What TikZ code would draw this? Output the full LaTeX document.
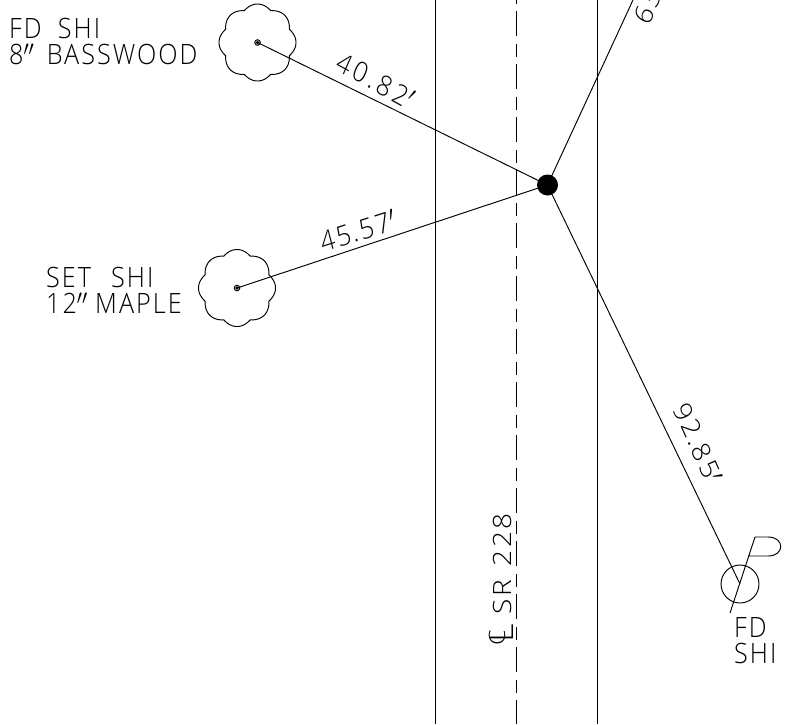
\documentclass[tikz,border=0pt]{standalone}
\usepackage{fontspec}
\setmainfont{Open Sans Light}[LetterSpace=8]
\newcommand{\wsp}{\hspace{0.3em}}
\tikzset{
  lbl/.style={inner sep=0pt,font=\fontsize{28}{28}\selectfont,text=black,transform shape,xscale=0.9},
  ln/.style={line width=0.95pt,black},
  treeo/.style={line width=0.95pt,black},
}
\begin{document}
\begin{tikzpicture}[x=1pt,y=-1pt]
\useasboundingbox (0,0) rectangle (799,724);
\coordinate (P) at (547.5,185);
\coordinate (T1) at (257.5,42.5);
\coordinate (T2) at (237,288);
\coordinate (F) at (740,584);
\coordinate (N) at (633,0);
\draw[ln] (435.5,0) -- (435.5,724);
\draw[ln] (597.5,0) -- (597.5,724);
\draw[ln,dash pattern=on 25pt off 7.5pt on 13pt off 7.5pt,dash phase=42pt] (516.5,0) -- (516.5,724);
\draw[ln] (P) -- (T1);
\draw[ln] (P) -- (T2);
\draw[ln] (P) -- (F);
\draw[ln] (P) -- (N);
\fill (P) circle (10.5);
\draw[ln] (T1) circle (2.8); \fill (T1) circle (1.8);
\draw[ln] (T2) circle (2.8); \fill (T2) circle (1.8);
\draw[treeo,shift={(T1)}] plot[samples=193,domain=0:360] ({(34.5+4*abs(cos(4*\x)))*cos(\x)},{(34.5+4*abs(cos(4*\x)))*sin(\x)}) -- cycle;
\draw[treeo,shift={(T2)}] plot[samples=193,domain=0:360] ({(34.5+4*abs(cos(4*\x)))*cos(\x)},{(34.5+4*abs(cos(4*\x)))*sin(\x)}) -- cycle;
\draw[ln] (F) circle (19);
\draw[ln] (730,613) -- (755,537) -- (768,537) .. controls (785,537) and (785,556) .. (768,556) -- (748,556);
\node[lbl,anchor=west] (a) at (9,28) {FD\hspace{0.65em}SHI};
\node[lbl,anchor=west] (b) at (9,54) {8$''$\hspace{0.5em}BASSWOOD};
\node[lbl,anchor=west] (c) at (46,277) {SET\hspace{0.8em}SHI};
\node[lbl,anchor=west] (d) at (46,303) {12$''$\wsp MAPLE};
\node[lbl,anchor=west] (e) at (734,627) {FD};
\node[lbl,anchor=west] (f) at (734,653) {SHI};
\node[lbl,rotate=-26.2] (g) at (375.5,80.5) {\addfontfeature{LetterSpace=14}40.82$'$};
\node[lbl,rotate=16] (h) at (358,231) {45.57$'$};
\node[lbl,rotate=-63.8] (i) at (698,443) {92.85$'$};
\node[lbl,rotate=90] (j) at (502,564) {SR\hspace{0.5em}228};
\node[lbl,rotate=90,anchor=base west,font=\fontsize{36}{36}\selectfont] (k) at (513,643) {L};
\node[lbl,rotate=90,anchor=base west,font=\fontsize{25}{25}\selectfont] (m) at (505,646) {C};
\node[lbl,rotate=65,anchor=west] (l) at (641,22) {63};
\end{tikzpicture}
\end{document}
